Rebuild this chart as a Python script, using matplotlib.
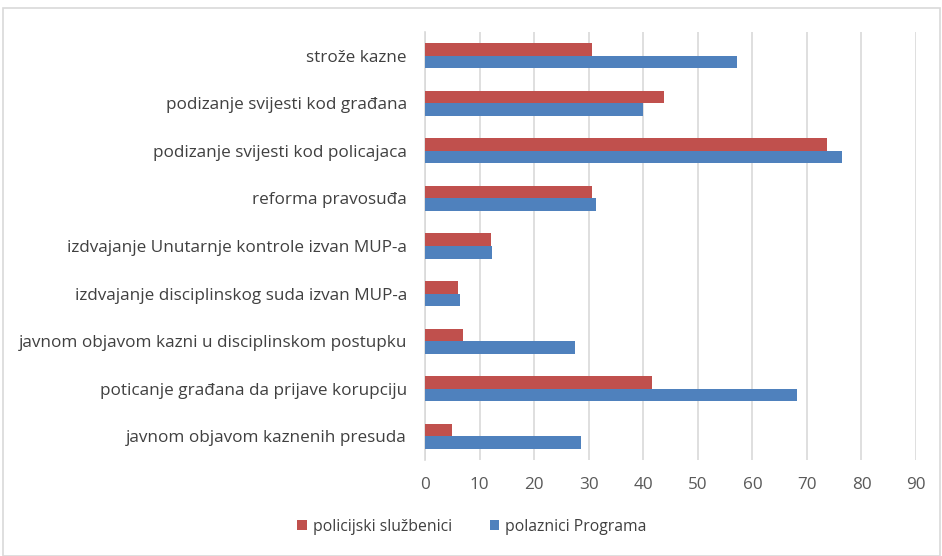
import matplotlib
matplotlib.use("Agg")
import matplotlib.pyplot as plt
from matplotlib.patches import Rectangle
import numpy as np

categories = [
    "strože kazne",
    "podizanje svijesti kod građana",
    "podizanje svijesti kod policajaca",
    "reforma pravosuđa",
    "izdvajanje Unutarnje kontrole izvan MUP-a",
    "izdvajanje disciplinskog suda izvan MUP-a",
    "javnom objavom kazni u disciplinskom postupku",
    "poticanje građana da prijave korupciju",
    "javnom objavom kaznenih presuda",
]
policijski = [30.6, 43.8, 73.6, 30.6, 12.1, 6.0, 7.0, 41.7, 5.0]
polaznici = [57.1, 40.0, 76.4, 31.4, 12.3, 6.5, 27.5, 68.2, 28.6]
series_names = ["policijski službenici", "polaznici Programa"]
xticks = list(range(0, 100, 10))

plt.rcParams['font.family'] = ['Open Sans', 'DejaVu Sans']

fig = plt.figure(figsize=(9.42, 5.56), dpi=100)
ax = fig.add_axes([425/942, 1-460/556, (916-425)/942, 428/556])

y = np.arange(len(categories))
h = 0.265
red = "#C0504D"
blue = "#4F81BD"
b1 = ax.barh(y - h/2, policijski, height=h, color=red, label=series_names[0], zorder=3)
b2 = ax.barh(y + h/2, polaznici, height=h, color=blue, label=series_names[1], zorder=3)

ax.set_ylim(len(categories) - 0.5, -0.5)
ax.set_xlim(0, 90)
ax.set_xticks(xticks)
ax.set_yticks(y)
ax.set_yticklabels(categories, fontsize=12.3, color="#404040")
ax.tick_params(axis='x', labelsize=12.3, labelcolor="#595959", length=0, pad=12)
ax.tick_params(axis='y', length=0, pad=13)
ax.grid(axis='x', color="#D9D9D9", linewidth=1.2, zorder=0)
for s in ["top", "right", "bottom"]:
    ax.spines[s].set_visible(False)
ax.spines["left"].set_color("#D9D9D9")
ax.spines["left"].set_linewidth(1.2)

fig.legend(handles=[b1, b2], labels=series_names, loc="center", bbox_to_anchor=(472/942, 1-527/556),
           ncol=2, frameon=False, fontsize=11.3, handlelength=0.6, handleheight=0.6,
           columnspacing=2.4, handletextpad=0.4, labelcolor="#404040")

fig.patches.append(Rectangle((3/942, 0), 937/942, 1-8/556, transform=fig.transFigure,
                             fill=False, edgecolor="#D9D9D9", linewidth=1.2))

fig.savefig("out.png", dpi=100)
